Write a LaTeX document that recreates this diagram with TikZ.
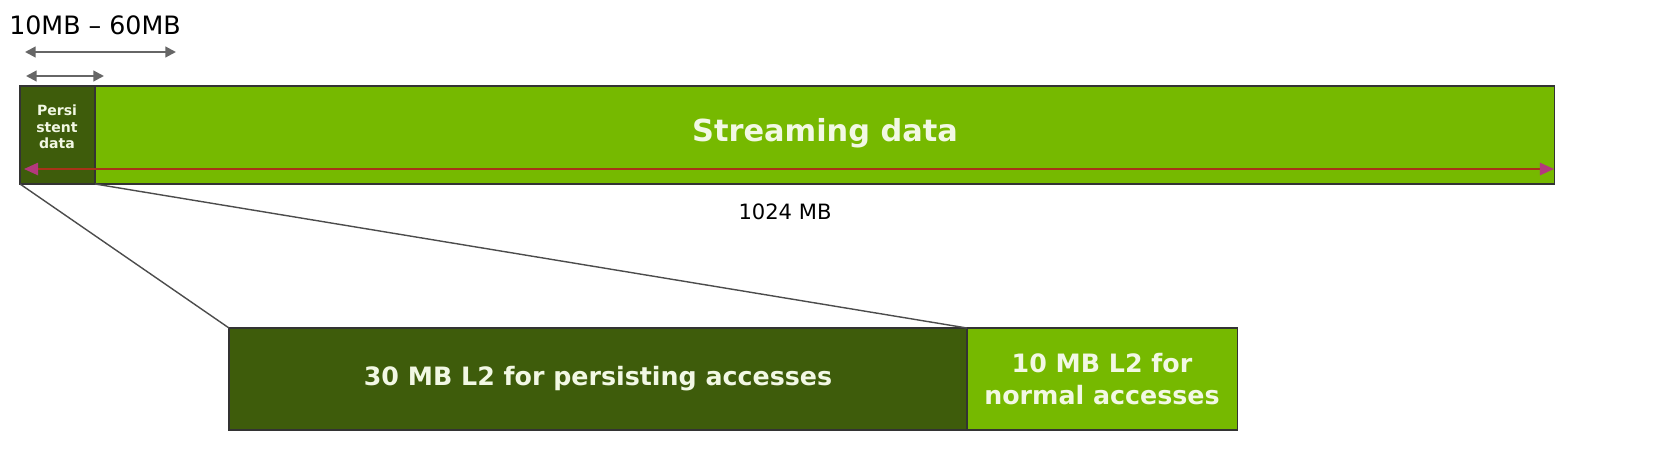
\documentclass[tikz,border=0pt]{standalone}
\usepackage{fontspec}
\setmainfont{DejaVu Sans}
\usetikzlibrary{arrows.meta}
\definecolor{dg}{HTML}{3E5C0B}
\definecolor{lg}{HTML}{76B900}
\definecolor{tx}{HTML}{F2F8E4}
\begin{document}
\begin{tikzpicture}[x=0.02cm,y=-0.02cm,
  box/.style={draw=black!80,line width=0.6pt,inner sep=0pt,outer sep=0pt,anchor=north west},
  lbl/.style={text=tx,font=\bfseries,align=center},
  gar/.style={draw=black!60,line width=1.2pt,{Triangle[length=6pt,width=6pt]}-{Triangle[length=6pt,width=6pt]}}]
\node[box,fill=lg,minimum width=30.7cm,minimum height=1.96cm] (bar) at (20,86) {};
\node[box,fill=dg,minimum width=1.5cm,minimum height=1.96cm] (pers) at (20,86) {};
\node[lbl,font=\bfseries\footnotesize] at (57,127) {Persi\\stent\\data};
\node[lbl,font=\bfseries\LARGE] (st) at (825,133) {Streaming data};
\coordinate (a1) at (24,169); \coordinate (a2) at (1554,169);
\draw[draw=black!40!red!60!brown,line width=1pt,{Triangle[length=8pt,width=7pt,color=magenta!70!black]}-{Triangle[length=8pt,width=7pt,color=magenta!70!black]}] (a1) -- (a2);
\node[font=\large] (mb) at (785,212) {1024 MB};
\node[font=\Large,inner sep=0pt] (rng) at (95,25) {10MB – 60MB};
\coordinate (l1) at (25,52); \coordinate (l2) at (176,52);
\draw[gar] (l1) -- (l2);
\coordinate (s1) at (26,76); \coordinate (s2) at (104,76);
\draw[gar] (s1) -- (s2);
\node[box,fill=dg,minimum width=14.76cm,minimum height=2.04cm] (p30) at (229,328) {};
\node[lbl,font=\bfseries\Large] at (598,379) {30 MB L2 for persisting accesses};
\node[box,fill=lg,minimum width=5.42cm,minimum height=2.04cm] (n10) at (967,328) {};
\node[lbl,font=\bfseries\Large,align=center] at (1102,379) {10 MB L2 for\\normal accesses};
\draw[black!70,line width=0.8pt] (pers.south west) -- (p30.north west);
\draw[black!70,line width=0.8pt] (pers.south east) -- (p30.north east);
\pgfresetboundingbox
\useasboundingbox (0,0) rectangle (1655,460);
\end{tikzpicture}
\end{document}
